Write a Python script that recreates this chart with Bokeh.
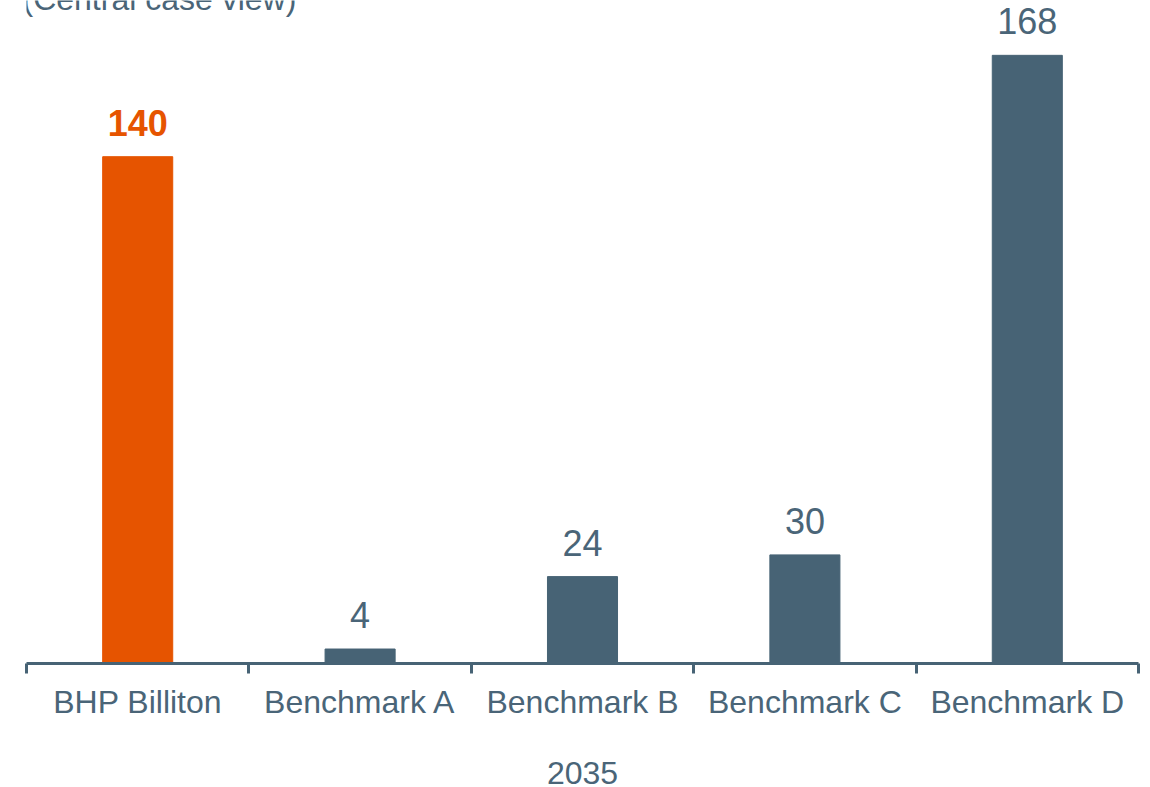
from bokeh.plotting import figure
from bokeh.models import ColumnDataSource, FixedTicker, Range1d, Label
from bokeh.embed import file_html
from bokeh.resources import INLINE

# ---- data ----
categories = ["BHP Billiton", "Benchmark A", "Benchmark B", "Benchmark C", "Benchmark D"]
values = [140, 4, 24, 30, 168]
highlight = [True, False, False, False, False]
x_title = "2035"
subtitle = "(Central case view)"

ORANGE = "#E65400"
SLATE = "#476375"
TEXT = "#4A6578"
FONT = "Liberation Sans"

xs = [i + 0.5 for i in range(len(categories))]
src = ColumnDataSource(dict(
    x=xs,
    top=values,
    label=[str(v) for v in values],
    color=[ORANGE if h else SLATE for h in highlight],
    tcolor=[ORANGE if h else TEXT for h in highlight],
    tstyle=["bold" if h else "normal" for h in highlight],
))

p = figure(width=1150, height=787, output_backend="svg", toolbar_location=None,
           x_range=Range1d(0, len(categories)), y_range=Range1d(0, 183.15),
           min_border_left=26, min_border_right=12, min_border_top=0, min_border_bottom=124)
p.outline_line_color = None
p.grid.visible = False
p.yaxis.visible = False
p.background_fill_color = "white"
p.border_fill_color = "white"

p.vbar(x="x", top="top", width=0.315, bottom=0, color="color", source=src)

p.text(x="x", y="top", text="label", source=src, text_color="tcolor",
       text_font_style="tstyle", text_font_size="36px", text_align="center",
       text_baseline="alphabetic", y_offset=-34, text_font={"value": FONT})

ax = p.xaxis[0]
ax.ticker = FixedTicker(ticks=xs, minor_ticks=list(range(len(categories) + 1)))
ax.major_label_overrides = {x: c for x, c in zip(xs, categories)}
ax.axis_line_color = SLATE
ax.axis_line_width = 3
ax.major_tick_line_color = None
ax.major_tick_out = 0
ax.major_tick_in = 0
ax.minor_tick_line_color = SLATE
ax.minor_tick_line_width = 3
ax.minor_tick_out = 10
ax.minor_tick_in = 0
ax.major_label_text_font = FONT
ax.major_label_text_font_size = "32px"
ax.major_label_text_color = TEXT
ax.major_label_standoff = 10
ax.axis_label = x_title
ax.axis_label_text_font = FONT
ax.axis_label_text_font_size = "32px"
ax.axis_label_text_font_style = "normal"
ax.axis_label_text_color = TEXT
ax.axis_label_standoff = 39

p.add_layout(Label(x=-4 / 222.4, y=665 / 3.62, text=subtitle,
                   text_font=FONT, text_font_size="32px", text_color=TEXT,
                   text_align="left", text_baseline="alphabetic"))

open("out.html", "w").write(file_html(p, INLINE))
